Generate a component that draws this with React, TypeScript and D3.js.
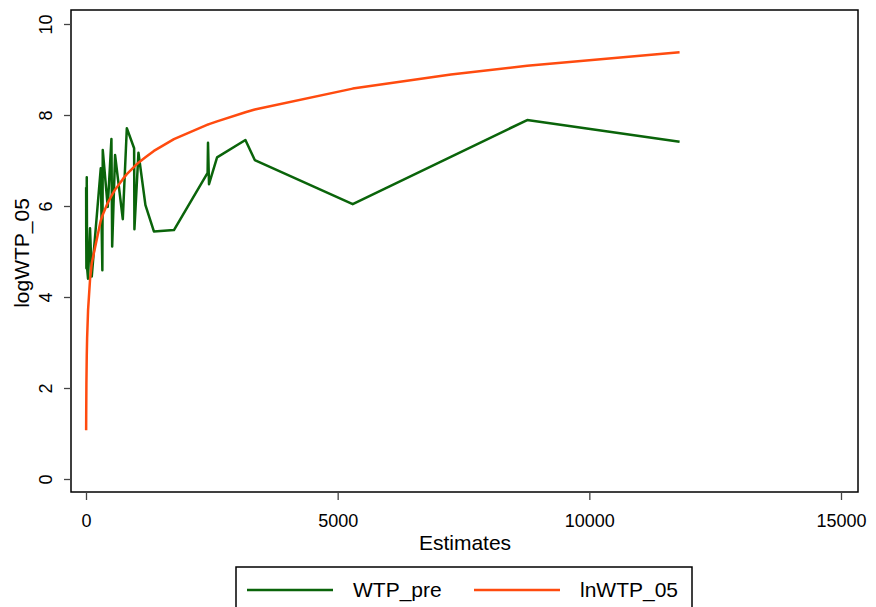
import React, { useEffect, useRef } from 'react';
import * as d3 from 'd3';

// values, sorted by Estimates
const estimates = [3, 4, 8, 15, 22, 41, 80, 114, 293, 325, 333, 432, 505, 520, 578, 731, 811, 956, 962, 1042, 1181, 1349, 1747, 2416, 2424, 2444, 2604, 3167, 3353, 5299, 7250, 8765, 11793];
const wtpPre = [6.41, 5.55, 4.63, 6.63, 4.64, 4.40, 5.51, 4.45, 6.83, 4.59, 7.23, 5.98, 7.47, 5.11, 7.12, 5.71, 7.71, 7.27, 5.49, 7.17, 6.02, 5.44, 5.47, 6.73, 7.39, 6.48, 7.07, 7.45, 7.01, 6.04, null, 7.89, 7.41];
const lnWtp05 = [1.07, 1.41, 2.08, 2.71, 3.09, 3.71, 4.38, 4.74, 5.68, 5.78, 5.81, 6.07, 6.22, 6.25, 6.36, 6.59, 6.70, 6.86, 6.87, 6.95, 7.07, 7.21, 7.47, 7.79, 7.79, 7.80, 7.86, 8.06, 8.12, 8.58, 8.89, 9.08, 9.38];

const xTicks = [0, 5000, 10000, 15000];
const yTicks = [0, 2, 4, 6, 8, 10];

const GREEN = '#0a640a';
const ORANGE = '#ff4b0f';
const FONT = 'Liberation Sans, Arial, sans-serif';

const App = () => {
  const svgRef = useRef(null);

  useEffect(() => {
    const svg = d3.select(svgRef.current);
    svg.selectAll('*').remove();

    const x = d3.scaleLinear().domain([0, 15000]).range([86, 841]);
    const y = d3.scaleLinear().domain([0, 10]).range([479, 24]);

    const rows = estimates.map((e, i) => ({ e, wtp: wtpPre[i], ln: lnWtp05[i] }));

    // plot frame
    svg.append('rect')
      .attr('x', 71).attr('y', 10)
      .attr('width', 787).attr('height', 482)
      .attr('fill', 'white')
      .attr('stroke', '#000')
      .attr('stroke-width', 1.5);

    // y axis
    const yAxis = svg.append('g')
      .attr('transform', 'translate(71,0)')
      .call(d3.axisLeft(y).tickValues(yTicks).tickSize(7).tickPadding(0).tickFormat(d3.format('d')));
    yAxis.select('.domain').remove();
    yAxis.selectAll('line').attr('stroke', '#444').attr('stroke-width', 1.3);
    yAxis.selectAll('text')
      .attr('x', null).attr('dy', null)
      .attr('transform', 'translate(-25,0) rotate(-90)')
      .attr('text-anchor', 'middle')
      .attr('dy', '0.35em')
      .attr('font-size', 18)
      .attr('font-family', FONT)
      .attr('fill', '#000');

    // x axis
    const xAxis = svg.append('g')
      .attr('transform', 'translate(0,492)')
      .call(d3.axisBottom(x).tickValues(xTicks).tickSize(8).tickPadding(0).tickFormat(d3.format('d')));
    xAxis.select('.domain').remove();
    xAxis.selectAll('line').attr('stroke', '#444').attr('stroke-width', 1.3);
    xAxis.selectAll('text')
      .attr('y', 35).attr('dy', null)
      .attr('font-size', 18)
      .attr('font-family', FONT)
      .attr('fill', '#000');

    // axis titles
    svg.append('text')
      .attr('x', 465).attr('y', 550)
      .attr('text-anchor', 'middle')
      .attr('font-size', 21)
      .attr('font-family', FONT)
      .text('Estimates');

    svg.append('text')
      .attr('transform', 'translate(29,253) rotate(-90)')
      .attr('text-anchor', 'middle')
      .attr('font-size', 21)
      .attr('font-family', FONT)
      .text('logWTP_05');

    // series
    const greenLine = d3.line()
      .x(d => x(d.e))
      .y(d => y(d.wtp));
    svg.append('path')
      .datum(rows.filter(d => d.wtp != null))
      .attr('fill', 'none')
      .attr('stroke', GREEN)
      .attr('stroke-width', 2.5)
      .attr('stroke-linejoin', 'round')
      .attr('d', greenLine);

    const orangeLine = d3.line()
      .x(d => x(d.e))
      .y(d => y(d.ln));
    svg.append('path')
      .datum(rows)
      .attr('fill', 'none')
      .attr('stroke', ORANGE)
      .attr('stroke-width', 2.5)
      .attr('stroke-linejoin', 'round')
      .attr('d', orangeLine);

    // legend
    const legend = svg.append('g');
    legend.append('rect')
      .attr('x', 236).attr('y', 567)
      .attr('width', 456).attr('height', 60)
      .attr('fill', 'white')
      .attr('stroke', '#000')
      .attr('stroke-width', 1.5);

    const items = [
      { label: 'WTP_pre', color: GREEN, x0: 247 },
      { label: 'lnWTP_05', color: ORANGE, x0: 474 }
    ];
    items.forEach(it => {
      legend.append('line')
        .attr('x1', it.x0).attr('x2', it.x0 + 86)
        .attr('y1', 590).attr('y2', 590)
        .attr('stroke', it.color)
        .attr('stroke-width', 2.5);
      legend.append('text')
        .attr('x', it.x0 + 106).attr('y', 597)
        .attr('font-size', 21)
        .attr('font-family', FONT)
        .text(it.label);
    });
  }, []);

  return (
    <svg
      ref={svgRef}
      width={876}
      height={607}
      style={{ position: 'absolute', left: 0, top: 0, background: 'white' }}
    />
  );
};

export default App;
